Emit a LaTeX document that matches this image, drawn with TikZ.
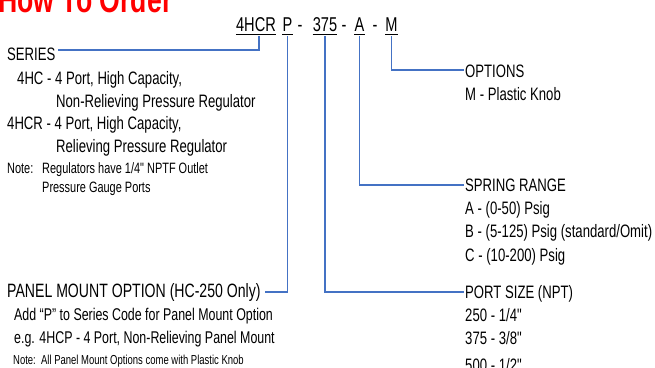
\documentclass[tikz,border=0pt]{standalone}
\usepackage{fontspec}
\setmainfont{Liberation Sans}[FakeStretch=0.73, Ligatures=TeXOff]
\definecolor{lineblue}{HTML}{4472C4}
\definecolor{titlered}{HTML}{FF0000}
\begin{document}
\begin{tikzpicture}[x=1pt,y=1pt,
  txt/.style={anchor=base west, inner sep=0pt, font=\fontsize{18}{20}\selectfont},
  txtsm/.style={anchor=base west, inner sep=0pt, font=\fontsize{17}{19}\selectfont},
  txtbig/.style={anchor=base west, inner sep=0pt, font=\fontsize{19.3}{21}\selectfont},
  small/.style={anchor=base west, inner sep=0pt, font=\fontsize{13}{15}\selectfont},
  note/.style={anchor=base west, inner sep=0pt, font=\fontsize{15}{17}\selectfont},
  code/.style={anchor=base, inner sep=0pt, font=\fontsize{20}{22}\selectfont},
  conn/.style={draw=lineblue, line width=1.5pt},
  uline/.style={line width=0.9pt}]
\useasboundingbox (0,0) rectangle (655,-367);

% title (cut off at top)
\node[anchor=base west, inner sep=0pt, text=titlered,
      font=\fontsize{36.5}{40}\selectfont\bfseries] (title) at (-2,-12) {How To Order};

% order code
\node[code] (c1) at (256,-31) {4HCR};
\node[code] (c2) at (287.5,-31) {P};
\node[code] (d1) at (300,-31) {-};
\node[code] (c3) at (325,-31) {375};
\node[code] (d2) at (344,-31) {-};
\node[code] (c4) at (359.5,-31) {A};
\node[code] (d3) at (375,-31) {-};
\node[code] (c5) at (391.5,-31) {M};
\foreach \n in {c1,c2,c3,c4,c5}{
  \draw[uline] ([yshift=-3pt]\n.base west) -- ([yshift=-3pt]\n.base east);
}

% series block
\node[txt] (series) at (7,-60) {SERIES};
\node[txt] (s1) at (17,-84) {4HC - 4 Port, High Capacity,};
\node[txt] (s2) at (56,-107) {Non-Relieving Pressure Regulator};
\node[txt] (s3) at (7,-129) {4HCR - 4 Port, High Capacity,};
\node[txt] (s4) at (56,-152) {Relieving Pressure Regulator};
\node[note] (sn1) at (7,-173) {Note:};
\node[note] (sn2) at (42,-173) {Regulators have 1/4" NPTF Outlet};
\node[note] (sn3) at (42,-192) {Pressure Gauge Ports};

% options block
\node[txt] (options) at (465,-77) {OPTIONS};
\node[txt] (o1) at (465,-100) {M - Plastic Knob};

% spring range block
\node[txt] (spring) at (465,-191) {SPRING RANGE};
\node[txt] (sp1) at (465,-214) {A - (0-50) Psig};
\node[txt] (sp2) at (465,-237) {B - (5-125) Psig (standard/Omit)};
\node[txt] (sp3) at (465,-261) {C - (10-200) Psig};

% port size block
\node[txt] (port) at (465,-298) {PORT SIZE (NPT)};
\node[txt] (p1) at (465,-321) {250 - 1/4"};
\node[txt] (p2) at (465,-344) {375 - 3/8"};
\node[txt] (p3) at (465,-371) {500 - 1/2"};

% panel mount block
\node[txtbig] (panel) at (7,-297) {PANEL MOUNT OPTION (HC-250 Only)};
\node[txtsm] (pa1) at (14,-320) {Add “P” to Series Code for Panel Mount Option};
\node[txtsm] (pa2) at (14,-343) {e.g. 4HCP - 4 Port, Non-Relieving Panel Mount};
\node[small] (pa3) at (13,-364) {Note:\ \ All Panel Mount Options come with Plastic Knob};

% connectors
\draw[conn] ([xshift=3pt,yshift=-5pt]c1.base) |- ([xshift=2pt,yshift=10pt]series.base east);
\draw[conn] ([yshift=-5pt]c2.base) |- ([xshift=4pt,yshift=5pt]panel.base east);
\draw[conn] ([yshift=-5pt]c3.base) |- ([xshift=-1pt,yshift=6pt]port.base west);
\draw[conn] ([yshift=-5pt]c4.base) |- ([xshift=-1pt,yshift=6pt]spring.base west);
\draw[conn] ([yshift=-5pt]c5.base) |- ([xshift=-1pt,yshift=7pt]options.base west);
\end{tikzpicture}
\end{document}
